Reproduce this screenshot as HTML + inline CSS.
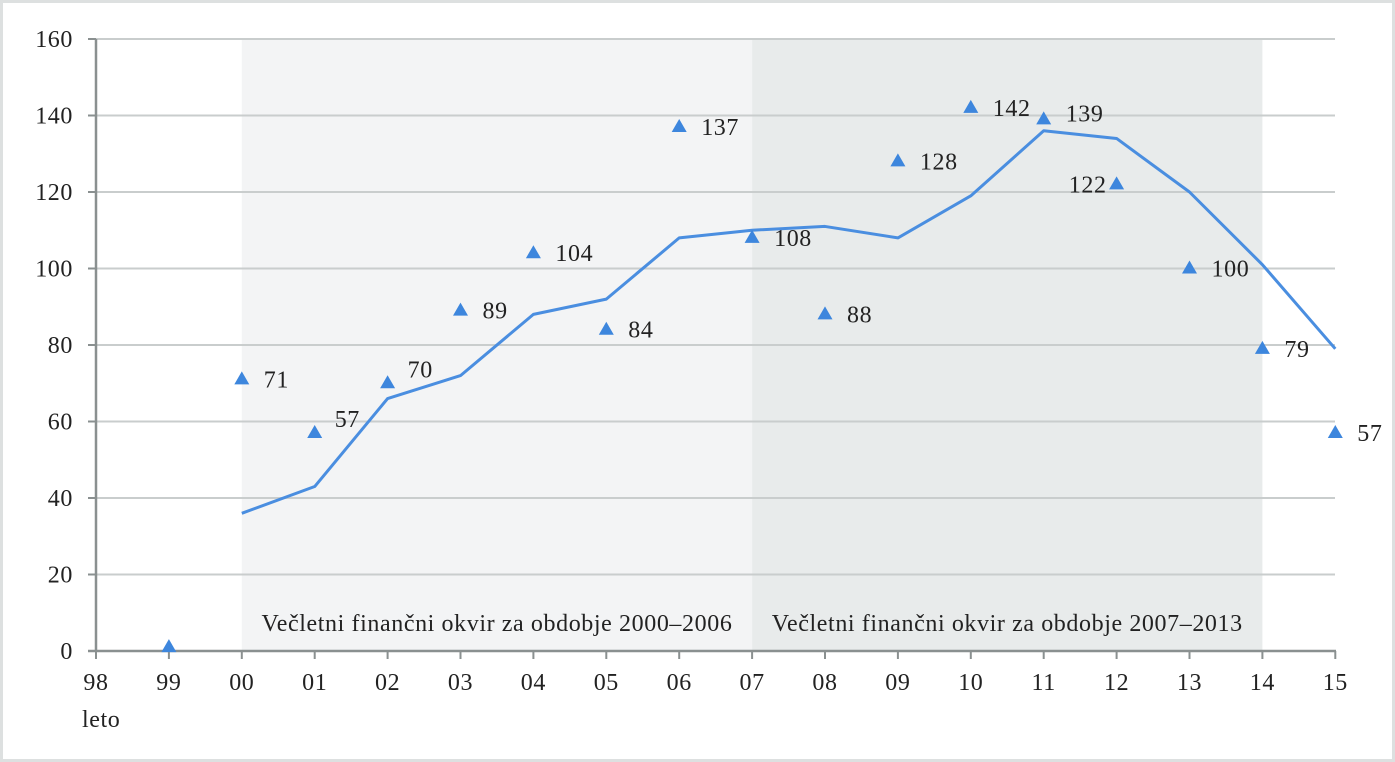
<!DOCTYPE html>
<html><head><meta charset="utf-8"><style>
html,body{margin:0;padding:0;background:#fff}
svg{display:block}
text{font-family:"Liberation Serif",serif;fill:#222;letter-spacing:0.6px}
</style></head><body>
<svg width="1395" height="762" viewBox="0 0 1395 762" id="c">
<rect x="1.5" y="1.5" width="1392" height="759" fill="#fff" stroke="#dde0e0" stroke-width="3"/>
</svg>
<script>
const years=["98","99","00","01","02","03","04","05","06","07","08","09","10","11","12","13","14","15"];
const yTicks=[0,20,40,60,80,100,120,140,160];
const lineYears=["00","01","02","03","04","05","06","07","08","09","10","11","12","13","14","15"];
const lineValues=[36,43,66,72,88,92,108,110,111,108,119,136,134,120,101,79];
const pointYears=["99","00","01","02","03","04","05","06","07","08","09","10","11","12","13","14","15"];
const pointValues=[1,71,57,70,89,104,84,137,108,88,128,142,139,122,100,79,57];
const pointLabels=["","71","57","70","89","104","84","137","108","88","128","142","139","122","100","79","57"];
const labelSide=["r","r","ur","ur","r","r","r","r","r","r","r","r","r","l","r","r","r"];
const bands=[{from:"00",to:"07",label:"Večletni finančni okvir za obdobje 2000–2006",fill:"#f3f4f5"},
             {from:"07",to:"14",label:"Večletni finančni okvir za obdobje 2007–2013",fill:"#e8ebeb"}];
const NS="http://www.w3.org/2000/svg",svg=document.getElementById('c');
const x0=96,step=72.9,yb=651,yt=39,FS=24;
const X=k=>x0+years.indexOf(k)*step;
const Y=v=>yb-(v/160)*(yb-yt);
function mk(t,a,p){const e=document.createElementNS(NS,t);for(const k in a)e.setAttribute(k,a[k]);(p||svg).appendChild(e);return e;}
bands.forEach((b,i)=>{
  const r=mk('rect',{x:X(b.from),y:yt,width:X(b.to)-X(b.from),height:yb-yt,fill:b.fill});
  
  
  const t=mk('text',{x:(X(b.from)+X(b.to))/2,y:631,'text-anchor':'middle','font-size':FS});
  t.textContent=b.label;
  
  
});
yTicks.forEach(v=>{
  if(v>0){const g=mk('line',{x1:x0,x2:1335,y1:Y(v),y2:Y(v),stroke:'#c9cdcd','stroke-width':2});
  
  }
  const tk=mk('line',{x1:x0-8,x2:x0,y1:Y(v),y2:Y(v),stroke:'#8a9090','stroke-width':2});
  
  
  const t=mk('text',{x:73,y:Y(v)+8,'text-anchor':'end','font-size':FS});
  t.textContent=v;
  
  
});
const ax=mk('line',{x1:x0,x2:x0,y1:yt,y2:yb,stroke:'#8a9090','stroke-width':2.5});


const axx=mk('line',{x1:x0-8,x2:1336,y1:yb,y2:yb,stroke:'#8a9090','stroke-width':2.5});


years.forEach(k=>{
  const tk=mk('line',{x1:X(k),x2:X(k),y1:yb,y2:yb+8,stroke:'#8a9090','stroke-width':2});
  
  
  const t=mk('text',{x:X(k),y:690,'text-anchor':'middle','font-size':FS});
  t.textContent=k;
  
  
});
const xt=mk('text',{x:82,y:727,'font-size':FS});xt.textContent='leto';


const pl=mk('polyline',{points:lineYears.map((k,i)=>X(k)+','+Y(lineValues[i])).join(' '),fill:'none',stroke:'#4a8ee0','stroke-width':3,'stroke-linejoin':'round'});


pointYears.forEach((k,i)=>{
  const cx=X(k),cy=Y(pointValues[i]);
  const p=mk('polygon',{points:`${cx},${cy-8} ${cx-7.5},${cy+5} ${cx+7.5},${cy+5}`,fill:'#3d86dd'});
  
  
  if(!pointLabels[i])return;
  const s=labelSide[i];
  let tx=cx+22,ty=cy+8,anc='start';
  if(s==='ur'){tx=cx+20;ty=cy-6;}
  if(s==='l'){tx=cx-10;anc='end';}
  if(k==='11'){ty=cy+2;}
  const t=mk('text',{x:tx,y:ty,'text-anchor':anc,'font-size':FS});
  t.textContent=pointLabels[i];
  
  
});
</script>
</body></html>
